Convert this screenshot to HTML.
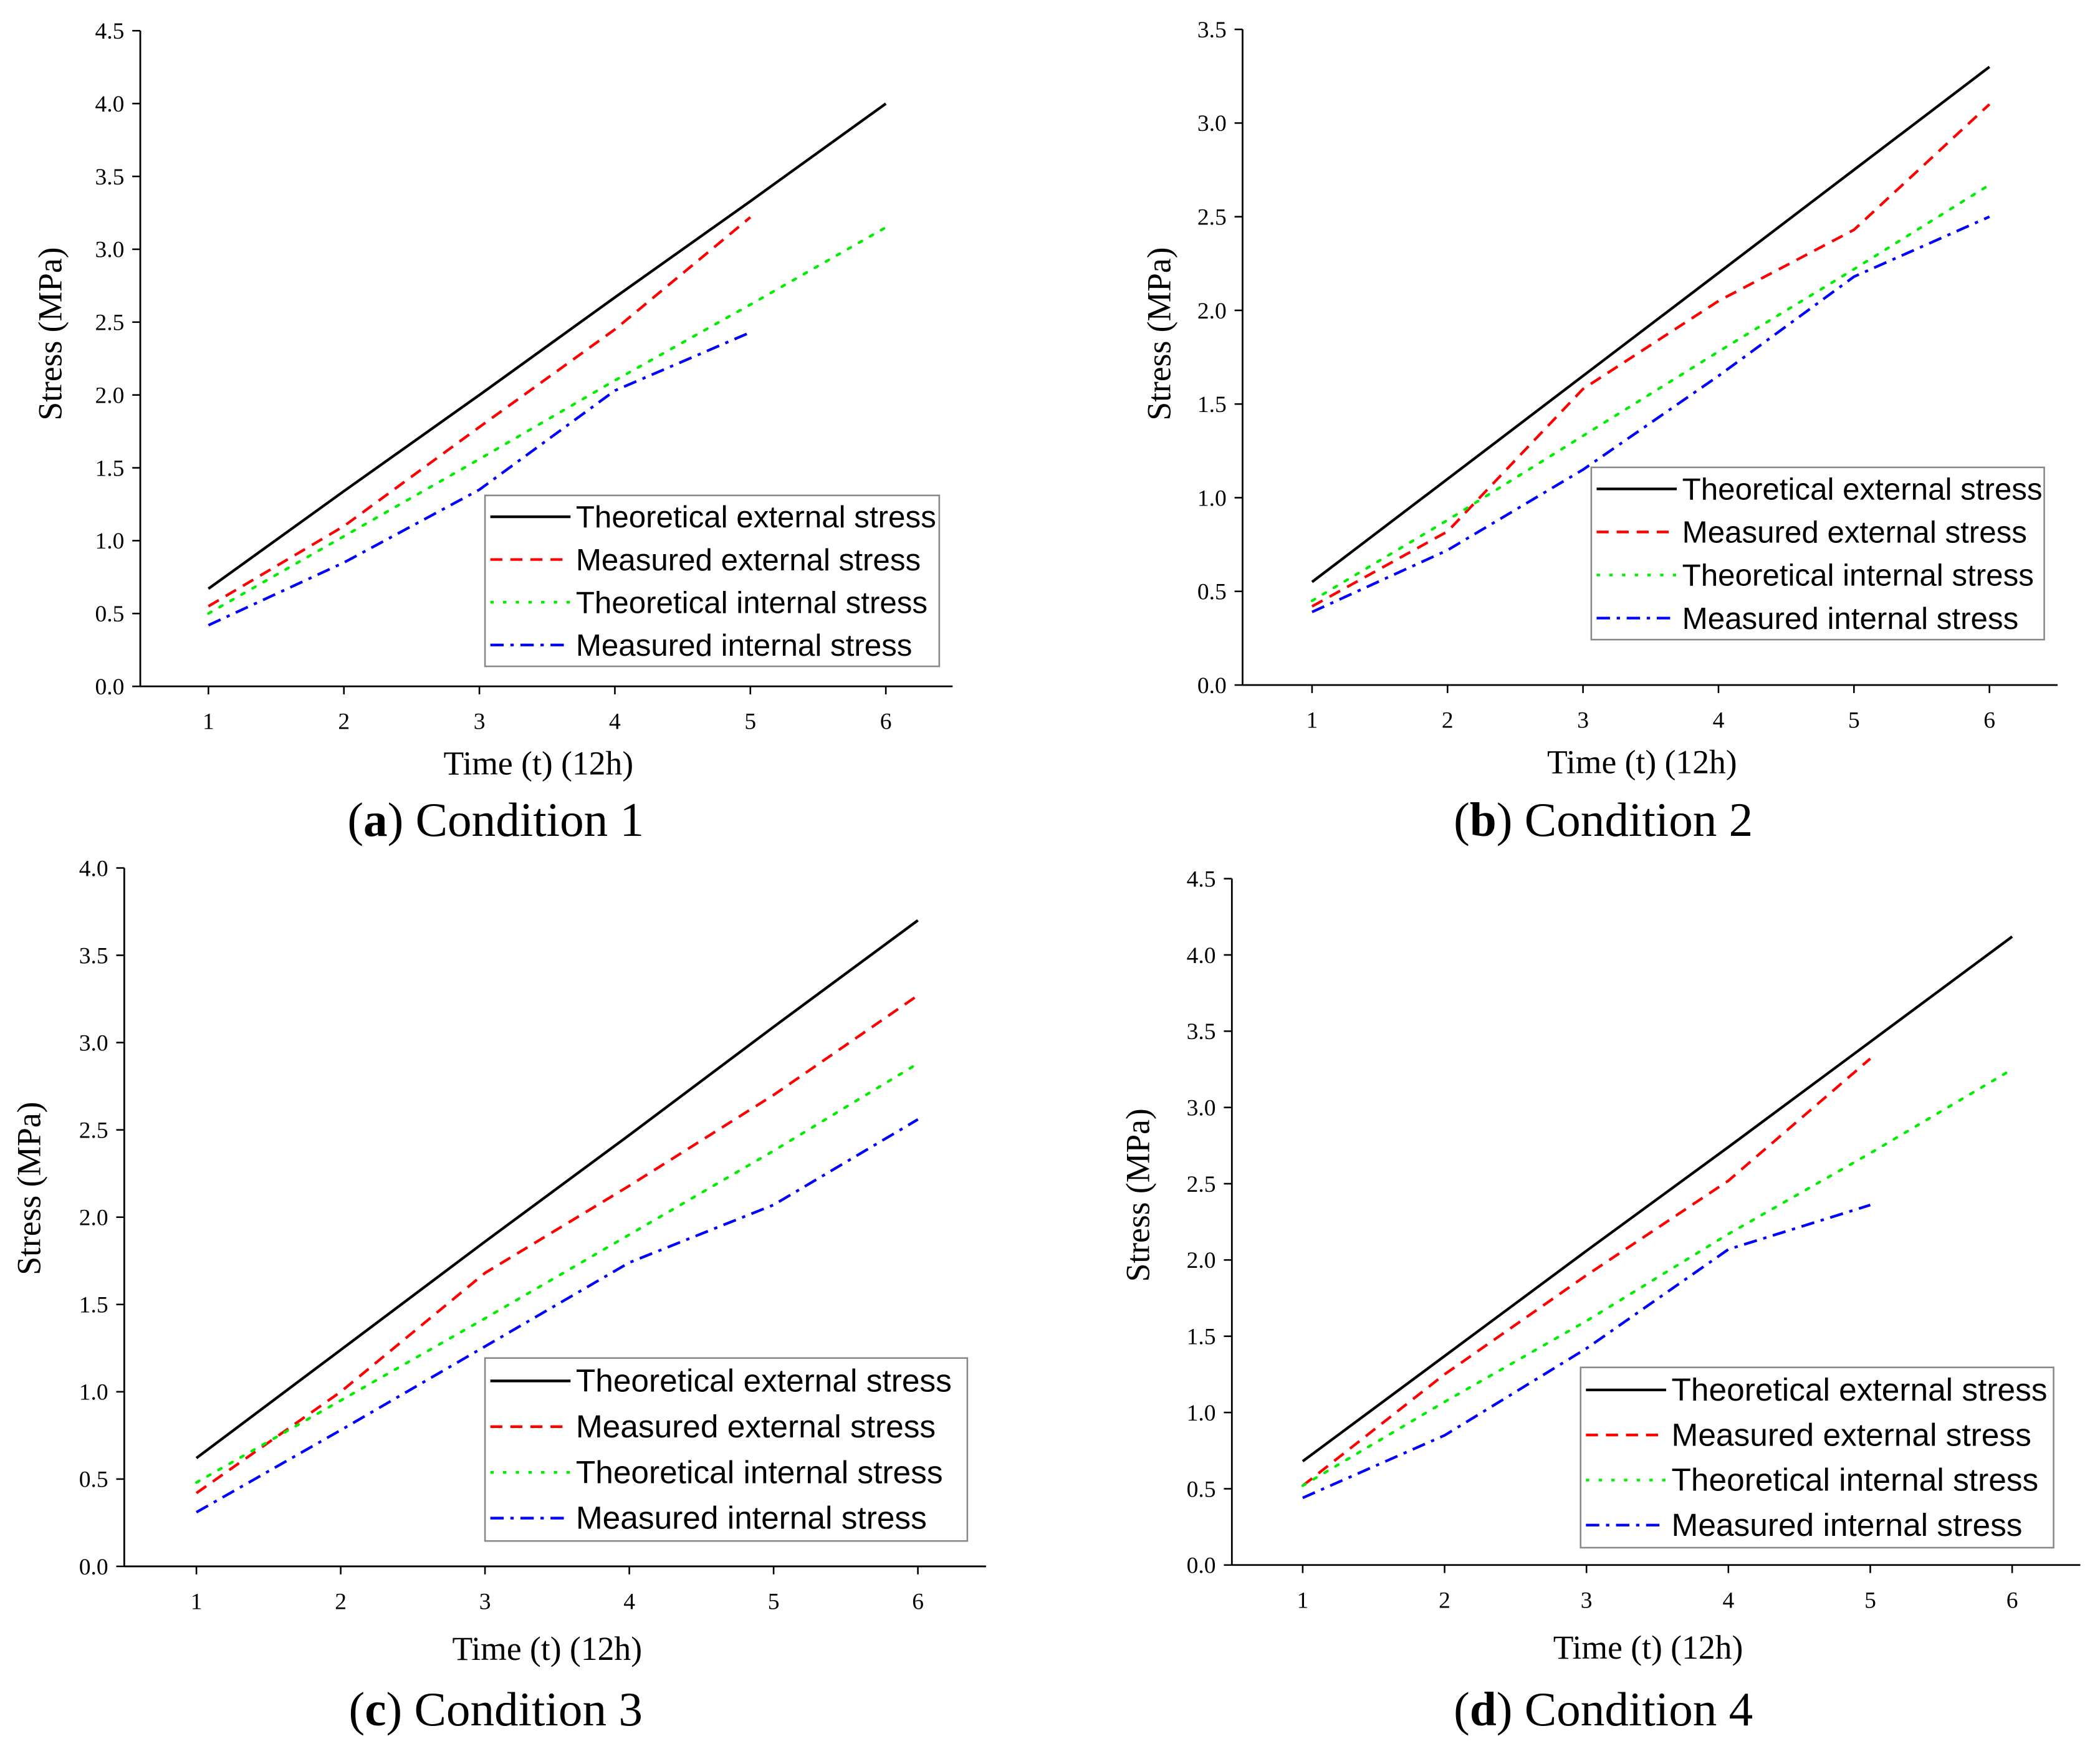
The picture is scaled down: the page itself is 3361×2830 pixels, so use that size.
<!DOCTYPE html>
<html><head><meta charset="utf-8"><style>
html,body{margin:0;padding:0;background:#fff;}
svg{display:block;}
</style></head><body>
<svg id="fig" width="3361" height="2830" viewBox="0 0 1568 1321" preserveAspectRatio="none" xmlns="http://www.w3.org/2000/svg"></svg>
<script>
// ---- data ----
const timeA=[1,2,3,4,5,6];
const theoExtA=[0.67,1.34,2.0,2.67,3.33,4.0];
const measExtA=[0.55,1.1,1.78,2.45,3.22];
const theoIntA=[0.5,1.03,1.56,2.1,2.62,3.15];
const measIntA=[0.42,0.85,1.35,2.03,2.43];

const theoExtB=[0.55,1.1,1.65,2.2,2.75,3.3];
const measExtB=[0.42,0.82,1.58,2.05,2.43,3.1];
const theoIntB=[0.45,0.88,1.33,1.78,2.22,2.67];
const measIntB=[0.39,0.72,1.15,1.65,2.18,2.5];

const theoExtC=[0.62,1.24,1.86,2.47,3.09,3.7];
const measExtC=[0.42,1.0,1.68,2.18,2.7,3.27];
const theoIntC=[0.48,0.95,1.42,1.9,2.38,2.88];
const measIntC=[0.31,0.78,1.26,1.74,2.07,2.56];

const theoExtD=[0.68,1.37,2.06,2.74,3.43,4.12];
const measExtD=[0.52,1.25,1.9,2.52,3.32];
const theoIntD=[0.52,1.07,1.6,2.17,2.7,3.25];
const measIntD=[0.44,0.85,1.42,2.07,2.36];

const yTicksA=[0,0.5,1,1.5,2,2.5,3,3.5,4,4.5];
const yTicksB=[0,0.5,1,1.5,2,2.5,3,3.5];
const yTicksC=[0,0.5,1,1.5,2,2.5,3,3.5,4];
const legendLabels=["Theoretical external stress","Measured external stress","Theoretical internal stress","Measured internal stress"];

const NS="http://www.w3.org/2000/svg";
const svg=document.getElementById('fig');
function mk(tag,attrs,parent){const e=document.createElementNS(NS,tag);for(const k in attrs)e.setAttribute(k,attrs[k]);(parent||svg).appendChild(e);return e;}

const styles=[
 {stroke:"#000",dash:""},
 {stroke:"#ff0000",dash:"9,6"},
 {stroke:"#00ee00",dash:"2.5,7"},
 {stroke:"#0000ff",dash:"10,5,2.5,5"}
];

const panels=[
 {id:"a",ax:105,ay:514,top:23,right:713,yTicks:yTicksA,x1:156,x6:663,series:[theoExtA,measExtA,theoIntA,measIntA],leg:[363,371,703,499],legFs:23,cap:"Condition 1",capX:371,capY:626,titleX:38,titleY:250,xtitleY:580},
 {id:"b",ax:930,ay:513,top:22,right:1540,yTicks:yTicksB,x1:982,x6:1489,series:[theoExtB,measExtB,theoIntB,measIntB],leg:[1191,350,1530,479],legFs:23,cap:"Condition 2",capX:1200,capY:626,titleX:868,titleY:250,xtitleY:579},
 {id:"c",ax:93,ay:1173,top:650,right:738,yTicks:yTicksC,x1:147,x6:687,series:[theoExtC,measExtC,theoIntC,measIntC],leg:[363,1017,724,1154],legFs:24,cap:"Condition 3",capX:371,capY:1292,titleX:22,titleY:890,xtitleY:1243},
 {id:"d",ax:922,ay:1172,top:658,right:1557,yTicks:yTicksA,x1:975,x6:1506,series:[theoExtD,measExtD,theoIntD,measIntD],leg:[1183,1024,1537,1159],legFs:24,cap:"Condition 4",capX:1200,capY:1292,titleX:852,titleY:895,xtitleY:1242}
];

panels.forEach(p=>{
 const g=mk('g',{});
 
 
 const yMaxTick=p.yTicks[p.yTicks.length-1];
 const ys=v=>p.ay-(v/yMaxTick)*(p.ay-p.top);
 const xs=t=>p.x1+(t-1)*(p.x6-p.x1)/5;
 const yAx=mk('line',{x1:p.ax,y1:p.top,x2:p.ax,y2:p.ay,stroke:"#000","stroke-width":1.3},g);
 
 
 const xAx=mk('line',{x1:p.ax,y1:p.ay,x2:p.right,y2:p.ay,stroke:"#000","stroke-width":1.3},g);
 
 
 p.yTicks.forEach(v=>{
  mk('line',{x1:p.ax-6,y1:ys(v),x2:p.ax,y2:ys(v),stroke:"#000","stroke-width":1.2},g);
  const t=mk('text',{x:p.ax-12,y:ys(v)+6,"text-anchor":"end","font-family":"Liberation Serif, serif","font-size":17.5},g);
  t.textContent=v.toFixed(1);
  
  
 });
 timeA.forEach(tv=>{
  mk('line',{x1:xs(tv),y1:p.ay,x2:xs(tv),y2:p.ay+6,stroke:"#000","stroke-width":1.2},g);
  const t=mk('text',{x:xs(tv),y:p.ay+32,"text-anchor":"middle","font-family":"Liberation Serif, serif","font-size":17.5},g);
  t.textContent=tv;
  
  
 });
 const xt=mk('text',{x:(p.ax+p.right)/2-6,y:p.xtitleY,"text-anchor":"middle","font-family":"Liberation Serif, serif","font-size":25},g);
 xt.textContent="Time (t) (12h)";
 
 
 const yt=mk('text',{x:0,y:0,"text-anchor":"middle","font-family":"Liberation Serif, serif","font-size":25,transform:`translate(${p.titleX+8},${p.titleY}) rotate(-90)`},g);
 yt.textContent="Stress (MPa)";
 
 
 p.series.forEach((arr,i)=>{
  const pts=arr.map((v,k)=>xs(timeA[k]).toFixed(1)+","+ys(v).toFixed(1)).join(" ");
  const pl=mk('polyline',{points:pts,fill:"none",stroke:styles[i].stroke,"stroke-width":2,"stroke-dasharray":styles[i].dash,"stroke-linecap":i==2?"round":"butt"},g);
  
  
 });
 const [lx,ly,rx,ry]=p.leg;
 const lg=mk('g',{},g);
 
 
 mk('rect',{x:lx,y:ly,width:rx-lx,height:ry-ly,fill:"#fff",stroke:"#888","stroke-width":1.2},lg);
 const step=(ry-ly)/4;
 legendLabels.forEach((lab,i)=>{
  const cy=ly+step*(i+0.5);
  mk('line',{x1:lx+4,y1:cy,x2:lx+64,y2:cy,stroke:styles[i].stroke,"stroke-width":2,"stroke-dasharray":styles[i].dash},lg);
  const t=mk('text',{x:lx+68,y:cy+8,"font-family":"Liberation Sans, sans-serif","font-size":p.legFs},lg);
  t.textContent=lab;
  
  
 });
 const c=mk('text',{x:p.capX,y:p.capY,"text-anchor":"middle","font-family":"Liberation Serif, serif","font-size":36},g);
 c.innerHTML='(<tspan font-weight="bold">'+p.id+'</tspan>) '+p.cap;
 
 
});
</script>
</body></html>
